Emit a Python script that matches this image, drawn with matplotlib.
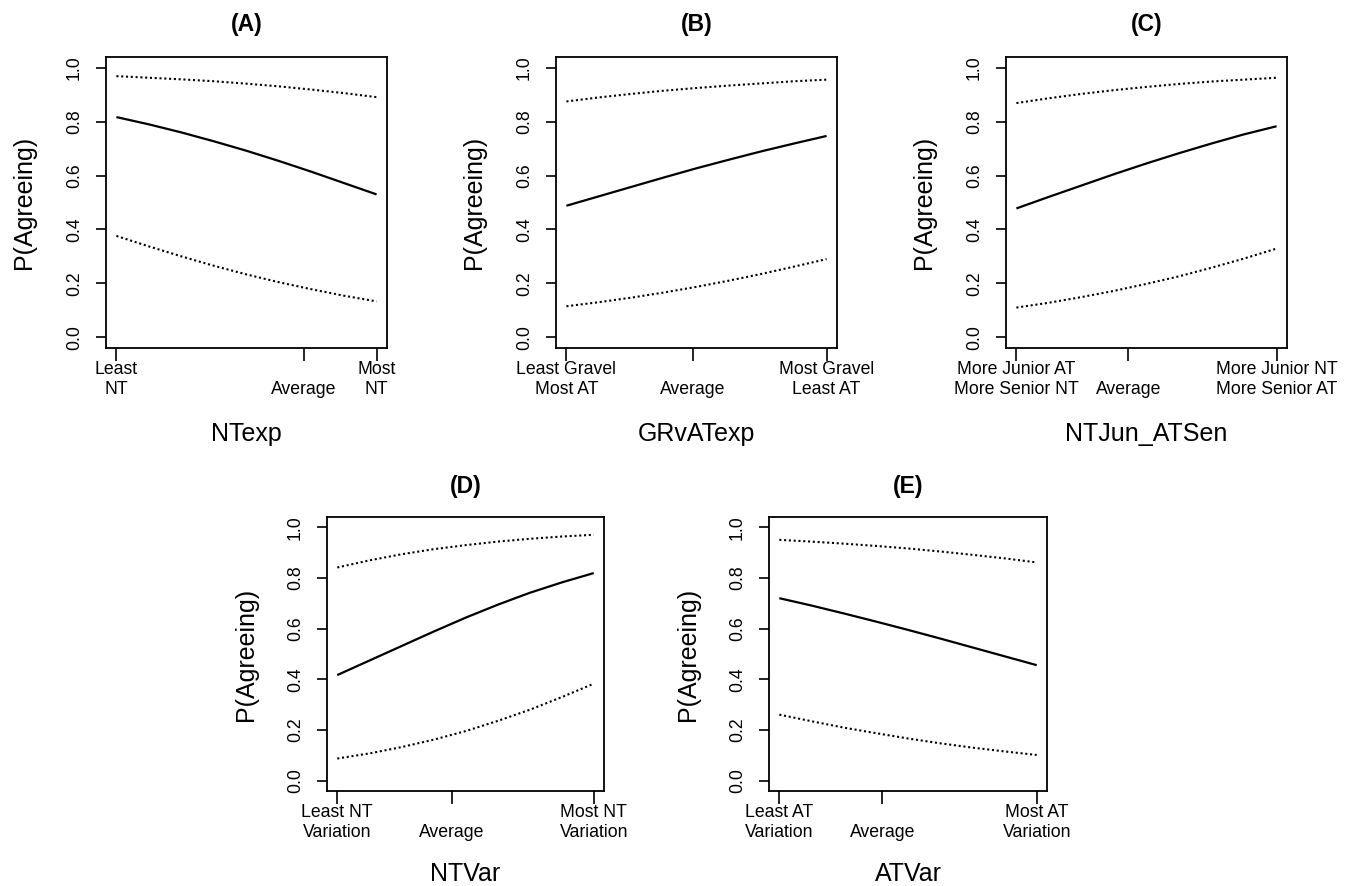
import matplotlib
matplotlib.use("Agg")
import matplotlib.pyplot as plt

plt.rcParams['font.family'] = ['Liberation Sans', 'DejaVu Sans']

# predictor positions (0 = least, 1 = most) where curves were read
x_pts = [0.0, 0.125, 0.25, 0.375, 0.5, 0.625, 0.75, 0.875, 1.0]

titles = ["(A)", "(B)", "(C)", "(D)", "(E)"]
xlabels = ["NTexp", "GRvATexp", "NTJun_ATSen", "NTVar", "ATVar"]

fit_a = [0.817, 0.790, 0.760, 0.727, 0.692, 0.654, 0.614, 0.572, 0.530]
upr_a = [0.969, 0.963, 0.957, 0.950, 0.941, 0.931, 0.919, 0.906, 0.891]
lwr_a = [0.376, 0.337, 0.300, 0.265, 0.233, 0.204, 0.178, 0.154, 0.133]

fit_b = [0.488, 0.523, 0.558, 0.593, 0.627, 0.659, 0.690, 0.719, 0.747]
upr_b = [0.875, 0.890, 0.903, 0.915, 0.925, 0.934, 0.942, 0.950, 0.956]
lwr_b = [0.115, 0.130, 0.147, 0.166, 0.187, 0.210, 0.235, 0.262, 0.290]

fit_c = [0.478, 0.521, 0.563, 0.605, 0.645, 0.683, 0.719, 0.753, 0.783]
upr_c = [0.869, 0.887, 0.903, 0.917, 0.929, 0.940, 0.949, 0.956, 0.963]
lwr_c = [0.110, 0.128, 0.149, 0.172, 0.198, 0.226, 0.258, 0.292, 0.329]

fit_d = [0.417, 0.474, 0.531, 0.588, 0.643, 0.694, 0.741, 0.782, 0.819]
upr_d = [0.841, 0.869, 0.893, 0.913, 0.929, 0.943, 0.954, 0.963, 0.970]
lwr_d = [0.088, 0.108, 0.133, 0.162, 0.196, 0.236, 0.280, 0.330, 0.383]

fit_e = [0.720, 0.691, 0.660, 0.628, 0.595, 0.561, 0.526, 0.491, 0.456]
upr_e = [0.950, 0.943, 0.935, 0.926, 0.916, 0.904, 0.891, 0.877, 0.861]
lwr_e = [0.261, 0.235, 0.210, 0.188, 0.167, 0.148, 0.131, 0.116, 0.102]

# where "Average" sits on each axis
avg_pos = [0.72, 0.485, 0.43, 0.447, 0.40]

tick_labels = [
    ["Least\nNT", "\nAverage", "Most\nNT"],
    ["Least Gravel\nMost AT", "\nAverage", "Most Gravel\nLeast AT"],
    ["More Junior AT\nMore Senior NT", "\nAverage", "More Junior NT\nMore Senior AT"],
    ["Least NT\nVariation", "\nAverage", "Most NT\nVariation"],
    ["Least AT\nVariation", "\nAverage", "Most AT\nVariation"],
]

fits = [fit_a, fit_b, fit_c, fit_d, fit_e]
uprs = [upr_a, upr_b, upr_c, upr_d, upr_e]
lwrs = [lwr_a, lwr_b, lwr_c, lwr_d, lwr_e]

y_ticks = [0.0, 0.2, 0.4, 0.6, 0.8, 1.0]

W, H = 1353, 886
# panel boxes in pixels: left, top, right, bottom
boxes = [
    (106, 57, 387, 348),
    (556, 57, 837, 348),
    (1006, 57, 1287, 348),
    (327, 517, 604, 791),
    (769, 517, 1047, 791),
]

fig = plt.figure(figsize=(W / 100, H / 100), dpi=100)

for i in range(5):
    l, t, r, b = boxes[i]
    ax = fig.add_axes([l / W, 1 - b / H, (r - l) / W, (b - t) / H])

    ax.plot(x_pts, fits[i], color='black', lw=1.6, solid_capstyle='butt')
    ax.plot(x_pts, uprs[i], color='black', lw=1.5, linestyle=(0, (1, 1.3)))
    ax.plot(x_pts, lwrs[i], color='black', lw=1.5, linestyle=(0, (1, 1.3)))

    ax.set_xlim(-0.04, 1.04)
    ax.set_ylim(-0.04, 1.04)

    ax.set_xticks([0.0, avg_pos[i], 1.0])
    ax.set_xticklabels(tick_labels[i], fontsize=12.7, linespacing=1.25)
    ax.set_yticks(y_ticks)
    ax.set_yticklabels(["%.1f" % v for v in y_ticks], fontsize=12.7,
                       rotation=90, va='center')

    ax.tick_params(axis='x', length=9, width=1.2, pad=0.5, direction='out')
    ax.tick_params(axis='y', length=7, width=1.2, pad=9.5, direction='out')
    for s in ax.spines.values():
        s.set_linewidth(1.3)

    ax.set_title(titles[i], fontsize=16.5, fontweight='bold', pad=19 if i < 3 else 17.5)
    ax.set_ylabel("P(Agreeing)", fontsize=18)
    ax.yaxis.set_label_coords(-0.25, 0.5)
    ax.set_xlabel(xlabels[i], fontsize=18)
    ax.xaxis.set_label_coords(0.5, -0.255 if i < 3 else -0.26)

fig.savefig("out.png", dpi=100, facecolor='white')
